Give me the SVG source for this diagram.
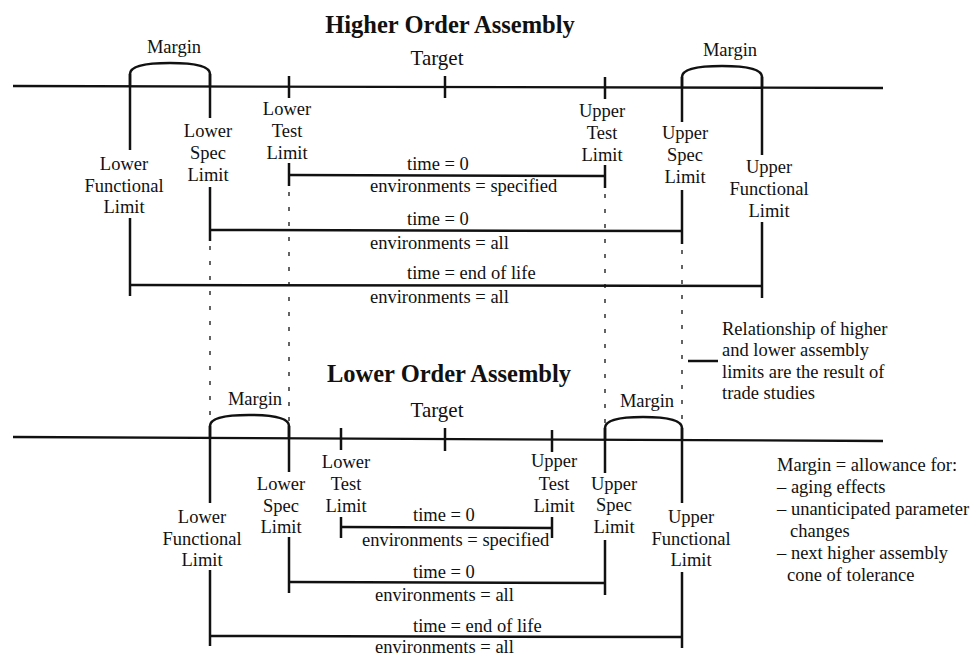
<svg xmlns="http://www.w3.org/2000/svg" width="978" height="658" viewBox="0 0 978 658">
<style>
text{font-family:"Liberation Serif","Times New Roman",serif;font-size:18.5px;fill:#111}
.c{text-anchor:middle}
.t{font-size:24.5px;font-weight:bold;text-anchor:middle}
.tg{font-size:21px;text-anchor:middle}
.ln{stroke:#111;stroke-width:2.5;fill:none;stroke-linecap:butt}
.ax{stroke:#111;stroke-width:2.3;fill:none}
.dt{stroke:#111;stroke-width:1.3;fill:none;stroke-dasharray:4 11}
</style>
<rect width="978" height="658" fill="#fff"/>

<!-- ===== Higher Order Assembly ===== -->
<g id="higher-title"><text class="t" x="450" y="33">Higher Order Assembly</text></g>
<g id="higher-axis"><line class="ax" x1="13" y1="86" x2="883" y2="88"/></g>
<g id="higher-target"><text class="tg" x="437" y="65">Target</text><line class="ln" x1="445" y1="76" x2="445" y2="98"/></g>
<g id="higher-margin-left"><text class="c" x="174" y="53">Margin</text><path class="ln" d="M130,86 L130,74 C130,66 145,63 170,63 C195,63 210,66 210,74 L210,86"/></g>
<g id="higher-margin-right"><text class="c" x="730" y="56">Margin</text><path class="ln" d="M682,88 L682,77 C682,69 697,66 722,66 C747,66 762,69 762,77 L762,88"/></g>
<g id="higher-lfl">
<line class="ln" x1="130" y1="74" x2="130" y2="150"/>
<text class="c" x="124" y="170">Lower</text><text class="c" x="124" y="192">Functional</text><text class="c" x="124" y="213">Limit</text>
<line class="ln" x1="130" y1="218" x2="130" y2="296"/>
</g>
<g id="higher-lsl">
<line class="ln" x1="210" y1="74" x2="210" y2="118"/>
<text class="c" x="208" y="137">Lower</text><text class="c" x="208" y="159">Spec</text><text class="c" x="208" y="181">Limit</text>
<line class="ln" x1="210" y1="187" x2="210" y2="241"/>
</g>
<g id="higher-ltl">
<line class="ln" x1="289" y1="76" x2="289" y2="98"/>
<text class="c" x="287" y="115">Lower</text><text class="c" x="287" y="137">Test</text><text class="c" x="287" y="159">Limit</text>
<line class="ln" x1="289" y1="163" x2="289" y2="186"/>
</g>
<g id="higher-utl">
<line class="ln" x1="605" y1="77" x2="605" y2="99"/>
<text class="c" x="602" y="117">Upper</text><text class="c" x="602" y="139">Test</text><text class="c" x="602" y="161">Limit</text>
<line class="ln" x1="605" y1="165" x2="605" y2="188"/>
</g>
<g id="higher-usl">
<line class="ln" x1="682" y1="77" x2="682" y2="122"/>
<text class="c" x="685" y="139">Upper</text><text class="c" x="685" y="161">Spec</text><text class="c" x="685" y="183">Limit</text>
<line class="ln" x1="682" y1="190" x2="682" y2="244"/>
</g>
<g id="higher-ufl">
<line class="ln" x1="762" y1="77" x2="762" y2="155"/>
<text class="c" x="769" y="173">Upper</text><text class="c" x="769" y="195">Functional</text><text class="c" x="769" y="217">Limit</text>
<line class="ln" x1="762" y1="222" x2="762" y2="298"/>
</g>
<g id="higher-range-test">
<line class="ln" x1="289" y1="175" x2="605" y2="176"/>
<text x="407" y="170">time = 0</text><text x="370" y="192">environments = specified</text>
</g>
<g id="higher-range-spec">
<line class="ln" x1="210" y1="230" x2="682" y2="231"/>
<text x="407" y="225">time = 0</text><text x="370" y="249">environments = all</text>
</g>
<g id="higher-range-func">
<line class="ln" x1="130" y1="285" x2="762" y2="286"/>
<text x="407" y="279">time = end of life</text><text x="370" y="303">environments = all</text>
</g>

<!-- ===== Lower Order Assembly ===== -->
<g id="lower-title"><text class="t" x="449" y="382">Lower Order Assembly</text></g>
<g id="lower-axis"><line class="ax" x1="13" y1="437" x2="883" y2="441"/></g>
<g id="lower-target"><text class="tg" x="437" y="417">Target</text><line class="ln" x1="445" y1="428" x2="445" y2="451"/></g>
<g id="lower-margin-left"><text class="c" x="255" y="405">Margin</text><path class="ln" d="M210,438 L210,426 C210,418 224,415 249,415 C274,415 289,418 289,426 L289,438"/></g>
<g id="lower-margin-right"><text class="c" x="647" y="407">Margin</text><path class="ln" d="M605,440 L605,428 C605,420 619,417 643,417 C668,417 682,420 682,428 L682,440"/></g>
<g id="lower-lfl">
<line class="ln" x1="210" y1="426" x2="210" y2="503"/>
<text class="c" x="202" y="523">Lower</text><text class="c" x="202" y="545">Functional</text><text class="c" x="202" y="566">Limit</text>
<line class="ln" x1="210" y1="570" x2="210" y2="646"/>
</g>
<g id="lower-lsl">
<line class="ln" x1="289" y1="426" x2="289" y2="472"/>
<text class="c" x="281" y="490">Lower</text><text class="c" x="281" y="512">Spec</text><text class="c" x="281" y="533">Limit</text>
<line class="ln" x1="289" y1="537" x2="289" y2="593"/>
</g>
<g id="lower-ltl">
<line class="ln" x1="341" y1="428" x2="341" y2="450"/>
<text class="c" x="346" y="468">Lower</text><text class="c" x="346" y="490">Test</text><text class="c" x="346" y="512">Limit</text>
<line class="ln" x1="341" y1="517" x2="341" y2="538"/>
</g>
<g id="lower-utl">
<line class="ln" x1="552" y1="430" x2="552" y2="452"/>
<text class="c" x="554" y="467">Upper</text><text class="c" x="554" y="490">Test</text><text class="c" x="554" y="512">Limit</text>
<line class="ln" x1="552" y1="517" x2="552" y2="538"/>
</g>
<g id="lower-usl">
<line class="ln" x1="605" y1="428" x2="605" y2="473"/>
<text class="c" x="614" y="490">Upper</text><text class="c" x="614" y="511">Spec</text><text class="c" x="614" y="533">Limit</text>
<line class="ln" x1="605" y1="540" x2="605" y2="595"/>
</g>
<g id="lower-ufl">
<line class="ln" x1="682" y1="428" x2="682" y2="503"/>
<text class="c" x="691" y="523">Upper</text><text class="c" x="691" y="545">Functional</text><text class="c" x="691" y="566">Limit</text>
<line class="ln" x1="682" y1="572" x2="682" y2="648"/>
</g>
<g id="lower-range-test">
<line class="ln" x1="341" y1="527" x2="552" y2="528"/>
<text x="413" y="521">time = 0</text><text x="362" y="546">environments = specified</text>
</g>
<g id="lower-range-spec">
<line class="ln" x1="289" y1="582" x2="605" y2="583"/>
<text x="413" y="578">time = 0</text><text x="375" y="601">environments = all</text>
</g>
<g id="lower-range-func">
<line class="ln" x1="210" y1="636" x2="682" y2="637"/>
<text x="413" y="632">time = end of life</text><text x="375" y="653">environments = all</text>
</g>

<!-- ===== Notes ===== -->
<g id="note-relationship">
<line class="ln" x1="688" y1="361" x2="718" y2="361"/>
<text x="722" y="335">Relationship of higher</text>
<text x="722" y="356">and lower assembly</text>
<text x="722" y="378">limits are the result of</text>
<text x="722" y="399">trade studies</text>
</g>
<g id="note-margin">
<text x="777" y="471">Margin = allowance for:</text>
<text x="777" y="493">– aging effects</text>
<text x="777" y="515">– unanticipated parameter</text>
<text x="790" y="537">changes</text>
<text x="777" y="559">– next higher assembly</text>
<text x="787" y="581">cone of tolerance</text>
</g>

<!-- ===== Connectors (trade-study projections) ===== -->
<g id="connectors">
<line class="dt" x1="210" y1="246" x2="210" y2="425"/>
<line class="dt" x1="289" y1="192" x2="289" y2="425"/>
<line class="dt" x1="605" y1="194" x2="605" y2="427"/>
<line class="dt" x1="682" y1="250" x2="682" y2="427"/>
</g>
</svg>
